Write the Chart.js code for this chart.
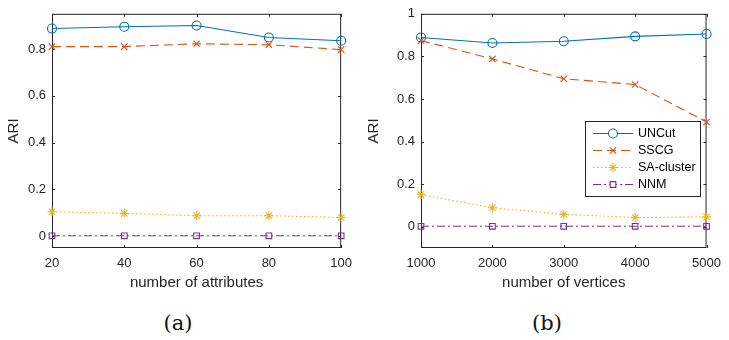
<!DOCTYPE html>
<html>
<head>
<meta charset="utf-8">
<script src="https://cdn.jsdelivr.net/npm/chart.js@4.4.1/dist/chart.umd.min.js"></script>
<style>
  body { margin: 0; background: #fff; width: 729px; height: 340px; position: relative; overflow: hidden; }
  .panel { position: absolute; top: 0; }
  .cap { position: absolute; top: 311px; width: 60px; text-align: center; line-height: 24px;
         font-family: "DejaVu Serif", "Liberation Serif", serif; font-size: 21px; color: #111; }
</style>
</head>
<body>
<div class="panel" style="left:0;width:360px;height:300px"><canvas id="chartA" width="360" height="300"></canvas></div>
<div class="panel" style="left:360px;width:369px;height:300px"><canvas id="chartB" width="369" height="300"></canvas></div>
<div class="cap" style="left:148px">(a)</div>
<div class="cap" style="left:517px">(b)</div>
<script>
// =========================
// DATA
// =========================
const seriesNames = ["UNCut", "SSCG", "SA-cluster", "NNM"];

const attributes = [20, 40, 60, 80, 100];
const uncutA = [0.887, 0.895, 0.900, 0.849, 0.835];
const sscgA = [0.810, 0.810, 0.822, 0.818, 0.797];
const saA = [0.105, 0.098, 0.088, 0.088, 0.080];
const nnmA = [0.002, 0.002, 0.002, 0.002, 0.002];
const yTicksA = [0, 0.2, 0.4, 0.6, 0.8];

const vertices = [1000, 2000, 3000, 4000, 5000];
const uncutB = [0.889, 0.863, 0.871, 0.894, 0.905];
const sscgB = [0.874, 0.788, 0.695, 0.668, 0.492];
const saB = [0.151, 0.089, 0.058, 0.043, 0.046];
const nnmB = [0.002, 0.002, 0.002, 0.002, 0.002];
const yTicksB = [0, 0.2, 0.4, 0.6, 0.8, 1];

// =========================
// STYLE
// =========================
const AXIS = "#262626";
const FONT = "'Liberation Sans', Arial, sans-serif";
const styles = [
  { color: "#0072BD", dash: [], point: "circle", radius: 4.5 },
  { color: "#D95319", dash: [9, 5], point: "crossRot", radius: 4.5 },
  { color: "#EDB120", dash: [1.5, 2.5], point: "star", radius: 4.5 },
  { color: "#7E2F8E", dash: [8, 3, 2, 3], point: "rect", radius: 4 }
];

function makeDatasets(xs, lists) {
  return lists.map((ys, i) => ({
    label: seriesNames[i],
    data: xs.map((x, j) => ({ x: x, y: ys[j] })),
    borderColor: styles[i].color,
    backgroundColor: "rgba(0,0,0,0)",
    borderWidth: 1.1,
    borderDash: styles[i].dash,
    pointStyle: styles[i].point,
    pointRadius: styles[i].radius,
    pointBorderWidth: 1.1,
    pointBorderColor: styles[i].color,
    pointBackgroundColor: "rgba(0,0,0,0)",
    tension: 0,
    clip: false
  }));
}

// box round the axes, inward ticks on all four sides (matlab look)
const boxPlugin = {
  id: "box",
  beforeDatasetsDraw(chart) {
    const a = chart.chartArea;
    const c = chart.ctx;
    c.save();
    c.strokeStyle = AXIS;
    c.lineWidth = 1;
    c.strokeRect(a.left + 0.5, a.top + 0.5, a.right - a.left - 1, a.bottom - a.top - 1);
    const t = 3;
    chart.scales.x.ticks.forEach(tk => {
      const px = Math.round(chart.scales.x.getPixelForValue(tk.value)) + 0.5;
      c.beginPath();
      c.moveTo(px, a.bottom); c.lineTo(px, a.bottom - t);
      c.moveTo(px, a.top); c.lineTo(px, a.top + t);
      c.stroke();
    });
    chart.scales.y.ticks.forEach(tk => {
      const py = Math.round(chart.scales.y.getPixelForValue(tk.value)) + 0.5;
      c.beginPath();
      c.moveTo(a.left, py); c.lineTo(a.left + t, py);
      c.moveTo(a.right, py); c.lineTo(a.right - t, py);
      c.stroke();
    });
    c.restore();
  }
};

// legend drawn inside the axes like matlab's
const insideLegend = {
  id: "insideLegend",
  afterDraw(chart, args, opts) {
    if (!opts.show) return;
    const c = chart.ctx;
    const x0 = opts.x, y0 = opts.y, w = opts.w, h = opts.h;
    c.save();
    c.fillStyle = "#fff";
    c.fillRect(x0, y0, w, h);
    c.strokeStyle = AXIS;
    c.lineWidth = 1;
    c.strokeRect(x0 + 0.5, y0 + 0.5, w, h);
    chart.data.datasets.forEach((ds, i) => {
      const yy = y0 + 12.5 + i * 17;
      c.strokeStyle = ds.borderColor;
      c.lineWidth = 1.1;
      c.setLineDash(ds.borderDash);
      c.beginPath();
      c.moveTo(x0 + 8, yy); c.lineTo(x0 + 48, yy);
      c.stroke();
      c.setLineDash([]);
      c.fillStyle = "#fff";
      Chart.helpers.drawPoint(c, {
        pointStyle: ds.pointStyle, radius: ds.pointRadius, borderWidth: 1.1, rotation: 0
      }, x0 + 28, yy);
      c.fillStyle = "#000";
      c.font = "12.5px " + FONT;
      c.textBaseline = "middle";
      c.textAlign = "left";
      c.fillText(ds.label, x0 + 53, yy + 0.5);
    });
    c.restore();
  }
};

function makeChart(id, xs, lists, yMin, yMax, yTicks, xTitle, pad, legend) {
  new Chart(document.getElementById(id), {
    type: "line",
    data: { datasets: makeDatasets(xs, lists) },
    plugins: [boxPlugin, insideLegend],
    options: {
      responsive: false,
      animation: false,
      events: [],
      layout: { padding: { left: 0, right: pad.right, top: pad.top, bottom: 0 } },
      plugins: {
        legend: { display: false },
        tooltip: { enabled: false },
        insideLegend: legend
      },
      scales: {
        x: {
          type: "linear",
          min: xs[0],
          max: xs[xs.length - 1],
          afterBuildTicks: s => { s.ticks = xs.map(v => ({ value: v })); },
          afterFit: s => { s.height = 300 - pad.bottom; },
          grid: { display: false, drawTicks: false },
          border: { display: false },
          ticks: {
            color: AXIS, font: { family: FONT, size: 13 }, padding: 8, maxRotation: 0,
            callback: v => String(v)
          },
          title: {
            display: true, text: xTitle, color: AXIS,
            font: { family: FONT, size: 15 }, padding: { top: 0, bottom: 8 }
          }
        },
        y: {
          min: yMin,
          max: yMax,
          afterBuildTicks: s => { s.ticks = yTicks.map(v => ({ value: v })); },
          afterFit: s => { s.width = pad.left; },
          grid: { display: false, drawTicks: false },
          border: { display: false },
          ticks: {
            color: AXIS, font: { family: FONT, size: 13 }, padding: 6,
            callback: v => String(+v.toFixed(1))
          },
          title: {
            display: true, text: "ARI", color: AXIS,
            font: { family: FONT, size: 15 }, padding: { top: 5, bottom: 0 }
          }
        }
      }
    }
  });
}

makeChart("chartA", attributes, [uncutA, sscgA, saA, nnmA], -0.05, 0.95, yTicksA,
  "number of attributes", { left: 52, right: 16, top: 5, bottom: 248 }, { show: false });

makeChart("chartB", vertices, [uncutB, sscgB, saB, nnmB], -0.1, 1, yTicksB,
  "number of vertices", { left: 61, right: 16, top: 9, bottom: 248 },
  { show: true, x: 225, y: 121, w: 115, h: 75 });
</script>
</body>
</html>
